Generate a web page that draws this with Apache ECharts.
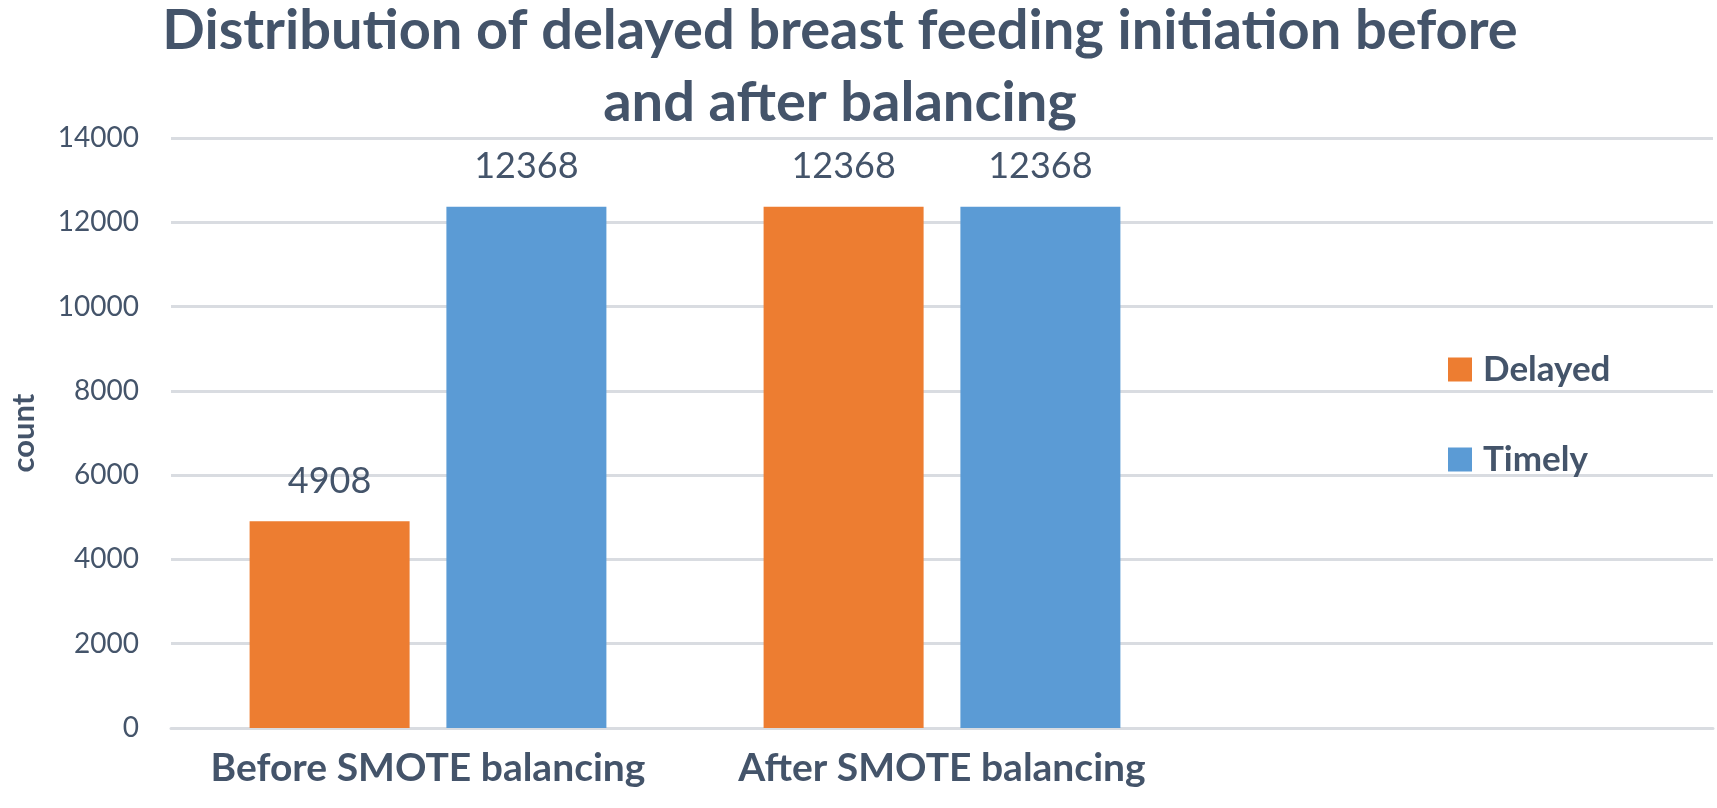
<!DOCTYPE html>
<html>
<head>
<meta charset="utf-8">
<script src="https://cdn.jsdelivr.net/npm/echarts@6/dist/echarts.min.js"></script>
<style>
  html, body { margin: 0; padding: 0; background: #fff; }
  #main { width: 1717px; height: 808px; }
</style>
</head>
<body>
<div id="main"></div>
<script>
var categories = ['Before SMOTE balancing', 'After SMOTE balancing', ''];
var delayed = [4908, 12368, null];
var timely = [12368, 12368, null];
var yTicks = [0, 2000, 4000, 6000, 8000, 10000, 12000, 14000];

var textColor = '#44546A';
var gridColor = '#D9DCE1';

var myChart = echarts.init(document.getElementById('main'));
var option = {
    backgroundColor: '#fff',
    animation: false,
    title: {
        text: 'Distribution of delayed breast feeding initiation before\nand after balancing',
        left: 840,
        textAlign: 'center',
        top: -5,
        padding: 0,
        textStyle: {
            fontFamily: 'Lato',
            fontWeight: 'bold',
            fontSize: 56,
            lineHeight: 72,
            color: textColor
        }
    },
    legend: {
        orient: 'vertical',
        left: 1443,
        top: 347,
        itemWidth: 24,
        itemHeight: 24,
        itemGap: 55,
        icon: 'rect',
        data: ['Delayed', 'Timely'],
        textStyle: {
            fontFamily: 'Lato',
            fontWeight: 'bold',
            fontSize: 35,
            lineHeight: 24,
            color: textColor,
            padding: [0, 0, 0, 6]
        }
    },
    grid: {
        left: 165,
        right: 4,
        top: 138,
        bottom: 80,
        containLabel: false
    },
    xAxis: {
        type: 'category',
        data: categories,
        axisTick: { show: false },
        axisLine: { lineStyle: { color: gridColor, width: 3 } },
        axisLabel: {
            interval: 0,
            fontFamily: 'Lato',
            fontWeight: 'bold',
            fontSize: 39,
            color: textColor,
            margin: 21
        }
    },
    yAxis: {
        type: 'value',
        min: 0,
        max: 14000,
        interval: 2000,
        name: 'count',
        nameLocation: 'middle',
        nameGap: 132,
        nameTextStyle: {
            fontFamily: 'Lato',
            fontWeight: 'bold',
            fontSize: 31,
            color: textColor
        },
        axisLine: { show: false },
        axisTick: { show: false },
        splitLine: { lineStyle: { color: gridColor, width: 3 } },
        axisLabel: {
            fontFamily: 'Lato',
            fontSize: 28,
            color: textColor,
            margin: 32,
            formatter: function (v) {
                return yTicks.indexOf(v) >= 0 ? String(v) : '';
            }
        }
    },
    series: [
        {
            name: 'Delayed',
            type: 'bar',
            data: delayed,
            barWidth: 160,
            barGap: '23%',
            itemStyle: { color: '#ED7D31' },
            label: {
                show: true,
                position: 'top',
                distance: 22,
                fontFamily: 'Lato',
                fontSize: 36,
                color: textColor
            }
        },
        {
            name: 'Timely',
            type: 'bar',
            data: timely,
            barWidth: 160,
            barGap: '23%',
            itemStyle: { color: '#5B9BD5' },
            label: {
                show: true,
                position: 'top',
                distance: 22,
                fontFamily: 'Lato',
                fontSize: 36,
                color: textColor
            }
        }
    ]
};
myChart.setOption(option);
</script>
</body>
</html>
